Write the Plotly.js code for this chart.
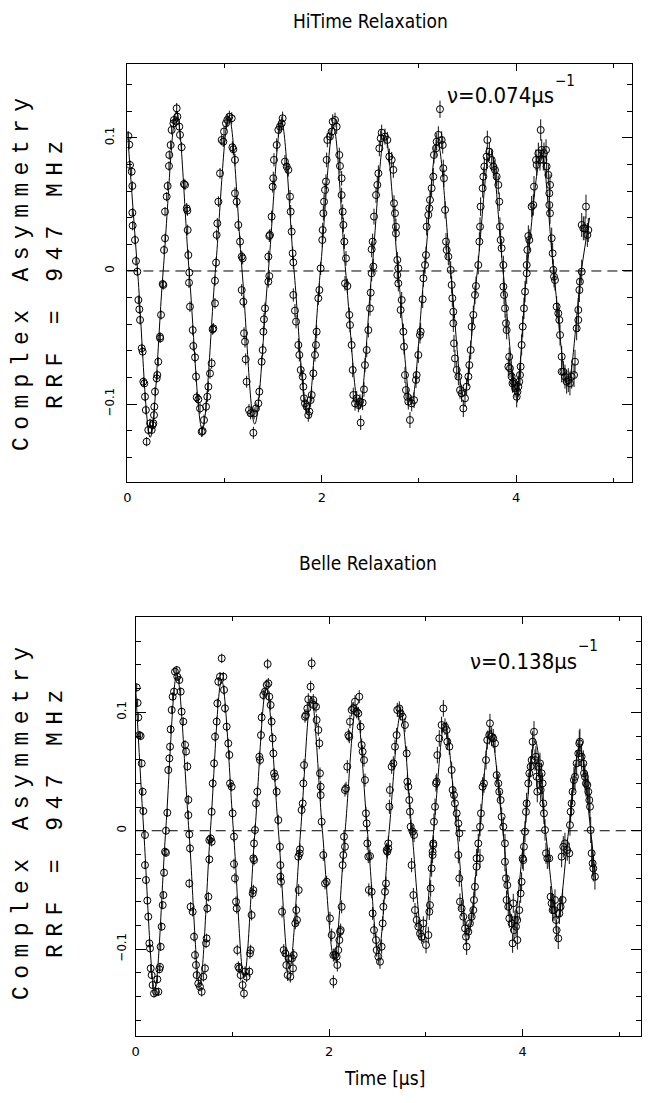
<!DOCTYPE html>
<html>
<head>
<meta charset="utf-8">
<script src="https://cdn.plot.ly/plotly-3.0.1.min.js"></script>
<style>
html,body{margin:0;padding:0;background:#fff;}
#chart{width:649px;height:1103px;}
</style>
</head>
<body>
<div id="chart"></div>
<script>
// ---------- HiTime panel (top) : data points ----------
const tTop = [
0.010,0.019,0.027,0.044,0.051,0.051,0.054,0.078,0.088,0.102,0.113,0.123,0.130,0.147,0.157,0.164,0.174,0.181,0.190,0.198,0.215,0.233,0.250,0.260,
0.267,0.274,0.277,0.284,0.301,0.308,0.318,0.335,0.337,0.346,0.363,0.370,0.377,0.387,0.387,0.404,0.414,0.428,0.431,0.445,0.455,0.473,0.479,0.500,0.507,0.514,0.534,0.541,
0.558,0.582,0.593,0.610,0.617,0.620,0.627,0.634,0.637,0.644,0.672,0.678,0.696,0.706,0.713,0.730,0.747,0.764,0.774,
0.788,0.809,0.822,0.833,0.850,0.867,0.877,0.884,0.901,0.901,0.912,0.918,0.925,0.936,0.953,0.970,0.987,0.994,1.014,1.028,1.049,1.073,
1.080,1.090,1.107,1.107,1.124,1.141,1.159,1.176,1.186,1.176,1.193,1.200,1.210,1.217,1.227,1.251,1.268,1.296,1.303,
1.323,1.347,1.357,1.381,1.392,1.399,1.405,1.416,1.450,1.460,1.450,1.460,1.467,1.484,1.495,1.501,1.508,1.536,1.553,1.570,1.587,1.597,
1.621,1.639,1.656,1.673,1.680,1.690,1.700,1.707,1.707,1.724,1.735,1.759,1.769,1.783,1.803,1.810,1.817,1.827,1.844,1.861,1.872,
1.885,1.896,1.913,1.930,1.940,1.947,1.964,1.975,1.988,2.005,2.009,2.016,2.023,2.033,2.043,2.050,2.057,2.084,2.102,2.112,2.136,
2.153,2.180,2.187,2.204,2.204,2.215,2.222,2.232,2.249,2.239,2.263,2.283,2.290,2.307,2.318,2.324,2.342,2.359,2.376,2.393,2.400,
2.420,2.434,2.444,2.462,2.479,2.496,2.503,2.513,2.530,2.513,2.523,2.537,2.558,2.571,2.582,2.592,2.606,2.616,2.650,2.674,
2.695,2.719,2.736,2.743,2.753,2.763,2.763,2.777,2.787,2.777,2.787,2.811,2.822,2.839,2.846,2.856,2.866,2.880,2.890,2.907,
2.925,2.949,2.969,2.976,2.993,3.010,3.017,3.038,3.045,3.062,3.072,3.079,3.096,3.106,3.113,3.130,3.147,3.154,3.175,3.182,3.199,3.216,3.233,3.244,
3.250,3.257,3.268,3.278,3.285,3.302,3.326,3.336,3.343,3.353,3.353,3.360,3.370,3.388,3.405,3.422,3.439,3.456,
3.473,3.490,3.508,3.518,3.532,3.542,3.559,3.576,3.586,3.610,3.621,3.628,3.634,3.655,3.662,3.672,3.696,3.703,3.724,
3.748,3.765,3.782,3.799,3.816,3.826,3.833,3.840,3.850,3.868,3.868,3.875,3.885,3.895,3.902,3.919,3.928,3.936,3.953,3.962,3.971,3.988,4.005,
4.013,4.022,4.031,4.039,4.046,4.056,4.067,4.080,4.091,4.108,4.108,4.115,4.125,4.135,4.159,4.176,4.183,4.204,4.211,4.228,4.245,4.252,4.262,4.279,4.286,4.307,
4.313,4.331,4.348,4.341,4.341,4.348,4.365,4.375,4.382,4.389,4.399,4.416,4.433,4.444,4.451,4.468,4.468,4.485,4.502,4.519,4.536,4.553,
4.571,4.595,4.605,4.622,4.639,4.639,4.650,4.656,4.674,4.674,4.691,4.708,4.718,4.732,4.742
];
const aTop = [
0.1015,0.0950,0.0797,0.0747,0.0639,0.0438,0.0341,0.0233,0.0075,-0.0005,-0.0218,-0.0288,-0.0368,-0.0581,-0.0606,-0.0832,-0.0845,-0.0945,-0.1045,-0.1283,-0.1195,-0.1145,-0.1195,-0.1158,
-0.1145,-0.1083,-0.1020,-0.0907,-0.0807,-0.0782,-0.0682,-0.0494,-0.0506,-0.0330,-0.0098,-0.0105,0.0158,0.0246,0.0446,0.0559,0.0639,0.0789,0.0872,0.0947,0.1060,0.1110,0.1135,0.1123,0.1223,0.1160,0.1085,0.1023,
0.0930,0.0654,0.0647,0.0471,0.0454,0.0308,0.0120,-0.0088,-0.0012,-0.0268,-0.0444,-0.0564,-0.0649,-0.0794,-0.0950,-0.0965,-0.1033,-0.1208,-0.1203,
-0.1120,-0.1020,-0.0945,-0.0870,-0.0770,-0.0694,-0.0439,-0.0431,-0.0243,-0.0073,0.0063,0.0271,0.0358,0.0521,0.0734,0.0985,0.0972,0.1048,0.1110,0.1135,0.1160,0.1148,
0.0930,0.0915,0.0835,0.0584,0.0521,0.0346,0.0221,0.0108,0.0095,-0.0143,-0.0231,-0.0468,-0.0531,-0.0664,-0.0832,-0.1045,-0.1070,-0.1216,-0.1070,
-0.1033,-0.0995,-0.0907,-0.0682,-0.0594,-0.0456,-0.0363,-0.0281,-0.0080,-0.0038,0.0108,0.0263,0.0271,0.0409,0.0634,0.0697,0.0835,0.0947,0.1060,0.1085,0.1110,0.1148,
0.0822,0.0785,0.0760,0.0559,0.0446,0.0296,0.0133,0.0065,-0.0180,-0.0298,-0.0381,-0.0556,-0.0631,-0.0744,-0.0794,-0.0870,-0.0957,-0.0995,-0.1020,-0.1083,-0.1057,
-0.0970,-0.0932,-0.0769,-0.0631,-0.0556,-0.0456,-0.0205,-0.0143,0.0020,0.0233,0.0308,0.0434,0.0521,0.0609,0.0672,0.0835,0.0985,0.1010,0.1048,0.1123,0.1135,
0.1085,0.0872,0.0789,0.0697,0.0571,0.0446,0.0346,0.0221,0.0095,-0.0093,-0.0113,-0.0330,-0.0406,-0.0556,-0.0744,-0.0932,-0.0995,-0.0957,-0.1007,-0.0982,-0.1140,
-0.0990,-0.0890,-0.0707,-0.0594,-0.0444,-0.0281,-0.0163,-0.0017,0.0033,0.0163,0.0221,0.0409,0.0571,0.0647,0.0734,0.0922,0.0997,0.1040,0.1010,0.0985,
0.0860,0.0835,0.0760,0.0509,0.0434,0.0333,0.0283,0.0083,0.0020,-0.0030,-0.0093,-0.0293,-0.0218,-0.0456,-0.0569,-0.0782,-0.0895,-0.0945,-0.0982,-0.1120,
-0.0995,-0.0970,-0.0819,-0.0782,-0.0631,-0.0481,-0.0456,-0.0213,-0.0055,0.0045,0.0120,0.0333,0.0421,0.0471,0.0534,0.0622,0.0709,0.0872,0.0922,0.0972,0.1023,0.1216,0.0985,0.0947,
0.0772,0.0697,0.0459,0.0221,0.0158,0.0108,0.0008,-0.0105,-0.0205,-0.0306,-0.0393,-0.0544,-0.0657,-0.0744,-0.0794,-0.0895,-0.0920,-0.1033,
-0.0957,-0.0870,-0.0794,-0.0707,-0.0594,-0.0419,-0.0330,-0.0180,-0.0113,0.0045,0.0221,0.0333,0.0484,0.0622,0.0709,0.0785,0.0860,0.0985,0.0897,
0.0835,0.0785,0.0760,0.0709,0.0647,0.0521,0.0333,0.0233,0.0171,0.0045,-0.0118,-0.0180,-0.0281,-0.0393,-0.0444,-0.0719,-0.0645,-0.0732,-0.0794,-0.0845,-0.0832,-0.0882,-0.0945,
-0.0907,-0.0870,-0.0832,-0.0782,-0.0719,-0.0556,-0.0418,-0.0281,-0.0155,-0.0017,0.0045,0.0158,0.0263,0.0233,0.0484,0.0496,0.0634,0.0835,0.0797,0.0885,0.0835,0.1060,0.0910,0.0835,0.0885,0.0910,
0.0785,0.0722,0.0647,0.0584,0.0496,0.0434,0.0246,0.0133,0.0008,-0.0043,-0.0068,-0.0268,-0.0318,-0.0368,-0.0481,-0.0644,-0.0757,-0.0757,-0.0794,-0.0832,-0.0820,-0.0845,
-0.0794,-0.0782,-0.0682,-0.0431,-0.0368,-0.0293,-0.0143,-0.0080,-0.0005,0.0346,0.0321,0.0321,0.0484,0.0271,0.0308
];
// error-bar half length read per 0.5 us time bin
const errTopBins = [0.0035,0.004,0.0045,0.005,0.0055,0.006,0.0065,0.007,0.008,0.009];
// fitted curve: turning points and zero crossings
const fitTopT = [0,0.105,0.235,0.368,0.505,0.635,0.77,0.905,1.045,1.18,1.31,1.45,1.585,1.715,1.85,1.985,2.12,2.245,2.385,2.515,2.65,2.785,2.92,3.055,3.19,3.325,3.46,3.6,3.735,3.865,4.0,4.11,4.26,4.385,4.53,4.67,4.755];
const fitTopA = [0.105,0,-0.125,0,0.12,0,-0.119,0,0.116,0,-0.115,0,0.112,0,-0.107,0,0.108,0,-0.104,0,0.102,0,-0.1,0,0.097,0,-0.094,0,0.092,0,-0.09,0,0.088,0,-0.085,0,0.04];

// ---------- Belle panel (bottom) ----------
const tBot = [
0.010,0.020,0.027,0.037,0.051,0.062,0.072,0.079,0.096,0.096,0.106,0.120,0.130,0.141,0.148,0.155,0.165,0.175,0.189,0.210,0.224,0.234,0.244,0.251,
0.258,0.268,0.279,0.286,0.293,0.303,0.313,0.313,0.327,0.337,0.348,0.355,0.361,0.372,0.382,0.396,0.406,0.424,0.430,0.451,0.465,
0.475,0.492,0.510,0.520,0.534,0.544,0.544,0.554,0.561,0.554,0.568,0.589,0.603,0.613,0.623,0.630,0.647,0.664,0.682,0.699,
0.716,0.727,0.733,0.740,0.751,0.761,0.761,0.775,0.785,0.785,0.796,0.810,0.820,0.837,0.844,0.854,0.871,0.889,0.906,0.913,0.923,0.940,
0.957,0.968,0.975,0.992,1.002,1.016,1.016,1.026,1.037,1.044,1.050,1.061,1.071,1.085,1.105,1.119,1.130,1.147,1.175,
1.181,1.188,1.198,1.209,1.216,1.223,1.216,1.223,1.233,1.243,1.257,1.278,1.285,1.295,1.302,1.319,1.336,1.354,1.364,1.371,1.381,
1.395,1.405,1.416,1.423,1.430,1.440,1.457,1.474,1.491,1.495,1.495,1.502,1.513,1.530,1.547,1.557,1.571,1.581,1.598,1.616,1.626,
1.633,1.650,1.660,1.667,1.681,1.685,1.695,1.698,1.715,1.726,1.733,1.740,1.750,1.760,1.774,1.784,1.808,1.819,
1.836,1.843,1.864,1.870,1.888,1.898,1.905,1.912,1.912,1.922,1.939,1.957,1.974,2.008,2.026,2.043,2.043,2.060,2.077,2.084,
2.094,2.105,2.112,2.119,2.129,2.139,2.146,2.153,2.163,2.163,2.174,2.187,2.198,2.208,2.215,2.232,2.249,2.267,2.284,2.301,2.311,
2.325,2.336,2.346,2.360,2.370,2.380,2.387,2.394,2.404,2.422,2.410,2.439,2.449,2.463,2.484,2.491,2.508,2.525,
2.542,2.553,2.560,2.577,2.587,2.594,2.601,2.611,2.611,2.622,2.628,2.646,2.663,2.680,2.697,2.704,2.725,2.739,2.759,
2.783,2.801,2.808,2.818,2.828,2.835,2.842,2.852,2.863,2.870,2.877,2.887,2.904,2.921,2.939,2.956,2.973,
3.001,3.025,3.035,3.042,3.049,3.059,3.069,3.069,3.076,3.076,3.083,3.094,3.104,3.111,3.118,3.138,3.162,3.180,3.197,
3.214,3.221,3.242,3.266,3.276,3.290,3.300,3.318,3.335,3.345,3.335,3.345,3.352,3.369,3.386,3.404,3.414,3.421,
3.438,3.455,3.473,3.490,3.497,3.507,3.524,3.524,3.541,3.559,3.559,3.569,3.586,3.600,3.621,3.634,3.655,3.662,
3.679,3.696,3.714,3.731,3.748,3.758,3.772,3.783,3.800,3.817,3.817,3.827,3.834,3.841,3.851,3.862,3.886,3.896,
3.903,3.910,3.920,3.931,3.945,3.944,3.965,3.979,3.989,4.000,4.006,4.013,4.024,4.034,4.041,4.058,4.069,4.082,4.093,4.103,4.117,
4.127,4.137,4.144,4.151,4.162,4.172,4.179,4.186,4.196,4.206,4.213,4.220,4.231,4.241,4.255,4.275,4.289,4.299,4.310,4.324,4.334,4.344,4.351,4.368,4.379,4.392,4.413,
4.403,4.420,4.437,4.461,4.482,4.489,4.496,4.506,4.516,4.530,4.541,4.558,4.575,4.585,4.592,4.609,4.627,4.634,4.644,4.654,4.668,4.678,4.689,
4.696,4.703,4.713,4.723,4.730,4.747
];
const aBot = [
0.1210,0.1080,0.0957,0.0808,0.0800,0.0569,0.0330,0.0166,-0.0036,-0.0290,-0.0416,-0.0590,-0.0726,-0.0951,-0.0994,-0.1162,-0.1219,-0.1303,-0.1374,-0.1360,-0.1255,-0.1360,-0.1170,-0.1150,
-0.0980,-0.0810,-0.0628,-0.0543,-0.0354,-0.0177,-0.0186,0.0000,0.0152,0.0513,0.0611,0.0710,0.0856,0.1020,0.1132,0.1175,0.1343,0.1357,0.1301,0.1273,0.1175,
0.1006,0.0922,0.0725,0.0669,0.0543,0.0261,0.0132,-0.0031,-0.0149,-0.0445,-0.0642,-0.0684,-0.0895,-0.1050,-0.1134,-0.1219,-0.1290,-0.1317,-0.1360,-0.1233,
-0.1162,-0.0951,-0.0909,-0.0656,-0.0557,-0.0242,-0.0079,-0.0065,-0.0093,0.0160,0.0400,0.0569,0.0794,0.0922,0.1076,0.1259,0.1301,0.1456,0.1301,0.1189,0.1034,0.0879,
0.0738,0.0640,0.0400,0.0372,0.0147,-0.0050,-0.0281,-0.0402,-0.0599,-0.0656,-0.1008,-0.1148,-0.1162,-0.1219,-0.1303,-0.1374,-0.1190,-0.1233,-0.1190,
-0.1036,-0.1008,-0.0712,-0.0529,-0.0501,-0.0248,-0.0233,-0.0107,0.0006,0.0231,0.0330,0.0625,0.0597,0.0808,0.0957,0.1146,0.1175,0.1231,0.1408,0.1245,0.1132,
0.1062,0.0922,0.0780,0.0653,0.0485,0.0457,0.0330,0.0090,-0.0135,-0.0290,-0.0388,-0.0430,-0.0684,-0.1008,-0.1036,-0.1134,-0.1219,-0.1078,-0.1233,-0.1078,-0.1162,
-0.1050,-0.0782,-0.0670,-0.0754,-0.0219,-0.0501,-0.0191,-0.0157,0.0175,0.0231,0.0400,0.0555,0.0963,0.0977,0.1033,0.1110,0.1217,0.1414,
0.1104,0.1062,0.1048,0.0935,0.0851,0.0738,0.0485,0.0372,0.0301,0.0076,-0.0205,-0.0445,-0.0431,-0.0740,-0.0881,-0.1050,-0.1275,-0.1050,-0.1064,-0.1134,
-0.1008,-0.0923,-0.0853,-0.0839,-0.0642,-0.0290,-0.0205,-0.0050,-0.0135,0.0344,0.0358,0.0541,0.0808,0.0794,0.0921,0.1020,0.1033,0.1090,0.1005,0.0991,0.1132,
0.0879,0.0724,0.0668,0.0597,0.0428,0.0147,0.0062,-0.0107,-0.0219,-0.0214,-0.0500,-0.0515,-0.0698,-0.0839,-0.0923,-0.1008,-0.1064,-0.1106,
-0.0979,-0.0782,-0.0642,-0.0515,-0.0445,-0.0163,-0.0177,-0.0149,-0.0107,0.0203,0.0344,0.0541,0.0569,0.0710,0.0808,0.1020,0.1033,0.0991,0.0963,
0.0893,0.0653,0.0414,0.0372,0.0259,0.0161,0.0034,-0.0290,-0.0008,-0.0543,-0.0036,-0.0670,-0.0754,-0.0810,-0.0867,-0.0895,-0.0782,
-0.0965,-0.0881,-0.0684,-0.0628,-0.0487,-0.0318,-0.0205,-0.0177,-0.0121,-0.0107,0.0076,0.0203,0.0400,0.0414,0.0639,0.0780,0.0893,0.1033,0.0879,
0.0851,0.0752,0.0710,0.0513,0.0344,0.0301,0.0231,0.0147,0.0062,-0.0022,-0.0205,-0.0402,-0.0599,-0.0656,-0.0726,-0.0825,-0.0895,-0.0979,
-0.0853,-0.0782,-0.0726,-0.0670,-0.0585,-0.0473,-0.0304,-0.0233,-0.0107,-0.0233,0.0034,0.0147,0.0372,0.0400,0.0597,0.0766,0.0808,0.0907,
0.0794,0.0780,0.0738,0.0470,0.0400,0.0330,0.0259,0.0118,0.0034,-0.0107,-0.0262,-0.0402,-0.0585,-0.0459,-0.0642,-0.0740,-0.0782,-0.0951,
-0.0613,-0.0839,-0.0754,-0.0810,-0.0923,-0.0754,-0.0670,-0.0529,-0.0431,-0.0233,-0.0248,-0.0135,-0.0008,0.0160,0.0231,0.0400,0.0485,0.0541,0.0597,0.0752,0.0836,
0.0597,0.0625,0.0456,0.0330,0.0541,0.0442,0.0569,0.0344,0.0485,0.0400,0.0231,0.0147,0.0006,-0.0190,-0.0233,-0.0233,-0.0557,-0.0613,-0.0670,-0.0670,-0.0585,-0.0754,-0.0839,-0.0909,-0.0698,-0.0642,-0.0585,
-0.0219,-0.0135,-0.0107,-0.0163,-0.0191,0.0048,0.0161,0.0231,0.0330,0.0428,0.0456,0.0569,0.0653,0.0738,0.0752,0.0625,0.0569,0.0485,0.0456,0.0400,0.0386,0.0330,0.0259,
0.0203,0.0006,-0.0190,-0.0276,-0.0318,-0.0388
];
const errBotBins = [0.0035,0.004,0.0045,0.005,0.0055,0.006,0.007,0.008,0.009,0.011];
const fitBotT = [0,0.083,0.196,0.31,0.425,0.55,0.662,0.772,0.888,1.01,1.12,1.233,1.35,1.475,1.588,1.705,1.815,1.93,2.05,2.165,2.28,2.395,2.51,2.62,2.74,2.855,2.97,3.08,3.195,3.32,3.435,3.555,3.665,3.795,3.9,4.02,4.13,4.235,4.36,4.475,4.59,4.703,4.755];
const fitBotA = [0.12,0,-0.134,0,0.132,0,-0.13,0,0.127,0,-0.124,0,0.12,0,-0.117,0,0.113,0,-0.108,0,0.105,0,-0.102,0,0.099,0,-0.094,0,0.091,0,-0.088,0,0.085,0,-0.08,0,0.076,0,-0.074,0,0.071,0,-0.042];

// ---------- texts ----------
const titleTop = 'HiTime Relaxation';
const titleBot = 'Belle Relaxation';
const yTitle1 = 'Complex Asymmetry';
const yTitle2 = 'RRF = 947 MHz';
const xTitle = 'Time [\u03BCs]';
const rateTop = '\u03BD=0.074\u03BCs';
const rateBot = '\u03BD=0.138\u03BCs';
const rateExp = '\u22121';

const binErr = (ts, bins) => ts.map(t => bins[Math.min(bins.length - 1, Math.floor(t / 0.5))]);
const spaced = s => '<span style="letter-spacing:7.4px">' + s + '</span>';

const black = '#000';
function dataTrace(t, a, bins, xa, ya) {
  return {
    x: t, y: a, xaxis: xa, yaxis: ya, type: 'scatter', mode: 'markers',
    marker: {symbol: 'circle-open', size: 7, color: black, line: {width: 1, color: black}},
    error_y: {type: 'data', array: binErr(t, bins), visible: true, thickness: 1, width: 0, color: '#111'},
    showlegend: false, hoverinfo: 'skip'
  };
}
function fitTrace(t, a, xa, ya) {
  return {
    x: t, y: a, xaxis: xa, yaxis: ya, type: 'scatter', mode: 'lines',
    line: {shape: 'spline', smoothing: 1, color: black, width: 1},
    showlegend: false, hoverinfo: 'skip'
  };
}

const data = [
  dataTrace(tTop, aTop, errTopBins, 'x', 'y'),
  fitTrace(fitTopT, fitTopA, 'x', 'y'),
  dataTrace(tBot, aBot, errBotBins, 'x2', 'y2'),
  fitTrace(fitBotT, fitBotA, 'x2', 'y2')
];

const narrow = 'DejaVu Sans Condensed, Liberation Sans Narrow, Roboto Condensed, Liberation Sans, sans-serif';
const xTickFont = {family: 'DejaVu Sans', size: 13, color: black};
const yTickFont = {family: narrow, size: 13, color: black};
function xAxis(domain, range, anchor) {
  return {
    domain: domain, range: range, anchor: anchor, showline: true, linecolor: black, linewidth: 1.2,
    mirror: 'allticks', ticks: 'inside', ticklen: 7, tickwidth: 1, tickcolor: black,
    tick0: 0, dtick: 2, minor: {dtick: 1, ticks: 'inside', ticklen: 4, tickwidth: 1, tickcolor: black},
    showgrid: false, zeroline: false, tickfont: xTickFont, ticklabelstandoff: 3
  };
}
function yAxis(domain, range, anchor, standoff) {
  return {
    domain: domain, range: range, anchor: anchor, showline: true, linecolor: black, linewidth: 1.2,
    mirror: 'allticks', ticks: 'inside', ticklen: 10, tickwidth: 1, tickcolor: black,
    tick0: 0, dtick: 0.1, minor: {dtick: 0.02, ticks: 'inside', ticklen: 5, tickwidth: 1, tickcolor: black},
    showgrid: false, zeroline: false, tickangle: -90, tickfont: yTickFont, ticklabelstandoff: standoff
  };
}

const yTitleFont = {family: 'Liberation Mono', size: 23, color: black};
const headFont = {family: narrow, size: 19, color: black};
const rateFont = {family: narrow, size: 22, color: black};
const expFont = {family: narrow, size: 15, color: black};
function ann(text, x, y, font, extra) {
  return Object.assign({text: text, xref: 'paper', yref: 'paper', x: x, y: y, showarrow: false,
    xanchor: 'center', yanchor: 'middle', font: font}, extra || {});
}

const layout = {
  width: 649, height: 1103, margin: {l: 0, r: 0, t: 0, b: 0},
  paper_bgcolor: '#fff', plot_bgcolor: '#fff', showlegend: false,
  xaxis: xAxis([0.1963, 0.9733], [0, 5.188], 'y'),
  yaxis: yAxis([0.5630, 0.9420], [-0.1586, 0.1556], 'x', 7),
  xaxis2: xAxis([0.2091, 0.9872], [0, 5.22], 'y2'),
  yaxis2: yAxis([0.0610, 0.4406], [-0.1731, 0.1805], 'x2', 3),
  shapes: [
    {type: 'line', xref: 'x domain', yref: 'y', x0: 0, x1: 1, y0: 0, y1: 0, line: {color: black, width: 1, dash: '10px,6px'}},
    {type: 'line', xref: 'x2 domain', yref: 'y2', x0: 0, x1: 1, y0: 0, y1: 0, line: {color: black, width: 1, dash: '10px,6px'}}
  ],
  annotations: [
    ann(spaced(yTitle1), 0.0339, 0.7543, yTitleFont, {textangle: -90}),
    ann(spaced(yTitle2), 0.0863, 0.7543, yTitleFont, {textangle: -90}),
    ann(spaced(yTitle1), 0.0339, 0.2566, yTitleFont, {textangle: -90}),
    ann(spaced(yTitle2), 0.0863, 0.2566, yTitleFont, {textangle: -90}),
    ann(titleTop, 0.5716, 0.9814, headFont),
    ann(titleBot, 0.5663, 0.4896, headFont),
    ann(xTitle, 0.5917, 0.0227, headFont),
    ann(rateTop, 0.6857, 0.9130, rateFont, {xanchor: 'left'}),
    ann(rateExp, 0.8520, 0.9266, expFont, {xanchor: 'left'}),
    ann(rateBot, 0.7211, 0.4007, rateFont, {xanchor: 'left'}),
    ann(rateExp, 0.8880, 0.4143, expFont, {xanchor: 'left'})
  ]
};

Plotly.newPlot('chart', data, layout, {displayModeBar: false, staticPlot: true});
</script>
</body>
</html>
